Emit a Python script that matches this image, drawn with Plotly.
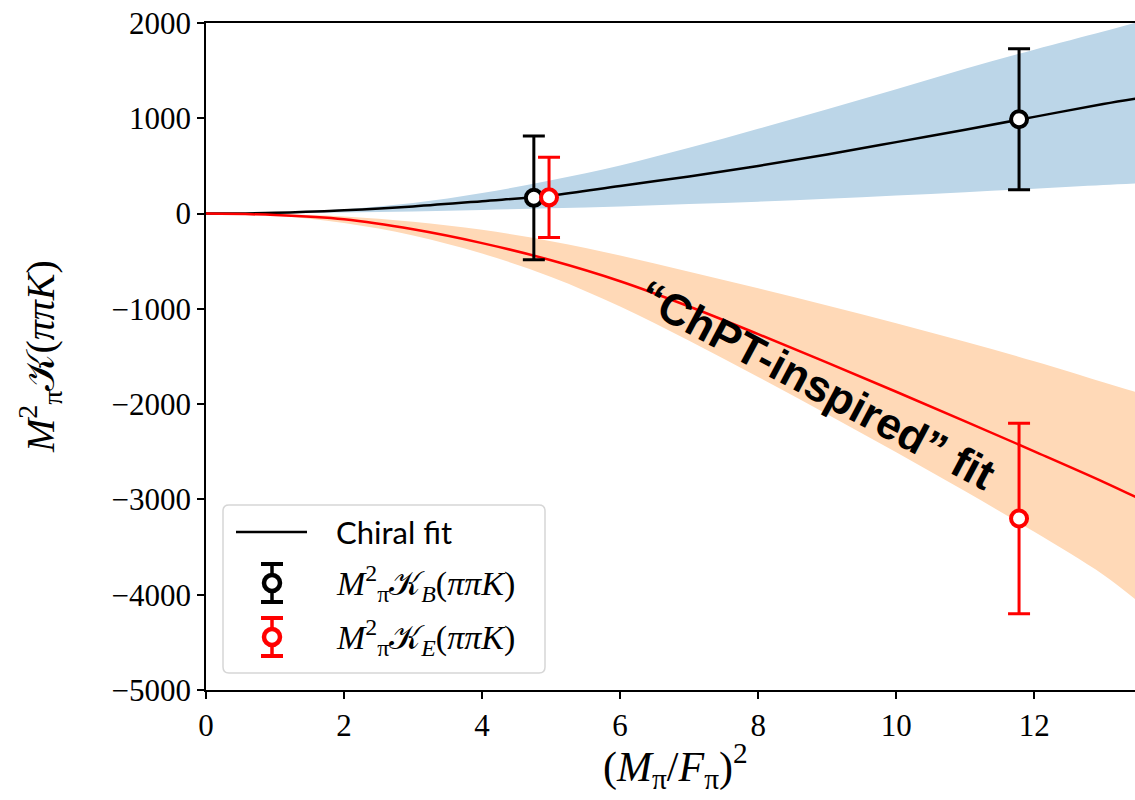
import plotly.graph_objects as go

# Fit curves sampled on a grid of (M_pi/F_pi)^2
x_grid = [0, 1, 2, 3, 4, 5, 6, 7, 8, 9, 10, 11, 12, 13, 13.5]
chiral_fit = [0, 8, 35, 75, 130, 190, 290, 390, 500, 620, 750, 880, 1015, 1150, 1210]
chiral_hi = [0, 8, 45, 110, 215, 350, 505, 690, 890, 1095, 1305, 1520, 1720, 1910, 2010]
chiral_lo = [0, 2, 10, 22, 38, 55, 75, 100, 125, 155, 190, 225, 260, 300, 318]

chpt_fit = [0, -15, -60, -165, -310, -490, -710, -975, -1265, -1565, -1870, -2180, -2495, -2815, -2985]
chpt_hi = [0, -5, -30, -85, -170, -290, -440, -610, -785, -965, -1150, -1345, -1550, -1770, -1880]
chpt_lo = [0, -20, -100, -230, -420, -665, -975, -1335, -1715, -2105, -2505, -2915, -3340, -3790, -4070]

# Lattice data points
kb_x = [4.75, 11.78]
kb_y = [165, 990]
kb_err = [650, 740]

ke_x = [4.97, 11.78]
ke_y = [170, -3200]
ke_err = [420, 1000]

x_ticks = [0, 2, 4, 6, 8, 10, 12]
y_ticks = [-5000, -4000, -3000, -2000, -1000, 0, 1000, 2000]
y_tick_text = [str(v).replace("-", "\u2212") for v in y_ticks]

W, H = 1135, 800
L, R, T, B = 206, 0, 23, 110
PW, PH = W - L - R, H - T - B

SERIF = "Liberation Serif"
SANS = "Lato"
BLUE_BAND = "#bcd6e8"
ORANGE_BAND = "#ffd9b7"

fig = go.Figure()

# uncertainty bands
fig.add_trace(go.Scatter(x=x_grid, y=chiral_lo, mode="lines", line=dict(width=0, shape="spline"),
                         hoverinfo="skip", showlegend=False))
fig.add_trace(go.Scatter(x=x_grid, y=chiral_hi, mode="lines", line=dict(width=0, shape="spline"),
                         fill="tonexty", fillcolor=BLUE_BAND, hoverinfo="skip", showlegend=False))
fig.add_trace(go.Scatter(x=x_grid, y=chpt_lo, mode="lines", line=dict(width=0, shape="spline"),
                         hoverinfo="skip", showlegend=False))
fig.add_trace(go.Scatter(x=x_grid, y=chpt_hi, mode="lines", line=dict(width=0, shape="spline"),
                         fill="tonexty", fillcolor=ORANGE_BAND, hoverinfo="skip", showlegend=False))

# central fit curves
fig.add_trace(go.Scatter(x=x_grid, y=chiral_fit, mode="lines",
                         line=dict(color="black", width=2.5, shape="spline"), showlegend=False))
fig.add_trace(go.Scatter(x=x_grid, y=chpt_fit, mode="lines",
                         line=dict(color="red", width=2.5, shape="spline"), showlegend=False))

# data points with error bars
for xs, ys, es, col in [(kb_x, kb_y, kb_err, "black"), (ke_x, ke_y, ke_err, "red")]:
    fig.add_trace(go.Scatter(
        x=xs, y=ys, mode="markers",
        marker=dict(symbol="circle", size=16, color="white", line=dict(color=col, width=4)),
        error_y=dict(type="data", array=es, color=col, thickness=3, width=11),
        showlegend=False,
    ))


def px_x(p):
    return (p - L) / PW


def px_y(p):
    return (H - B - p) / PH


shapes = []
annotations = []

# legend frame
lx0, lx1, ly0, ly1, rad = 223, 545, 505, 673, 6
path = (f"M {px_x(lx0 + rad)},{px_y(ly0)} L {px_x(lx1 - rad)},{px_y(ly0)} "
        f"Q {px_x(lx1)},{px_y(ly0)} {px_x(lx1)},{px_y(ly0 + rad)} "
        f"L {px_x(lx1)},{px_y(ly1 - rad)} Q {px_x(lx1)},{px_y(ly1)} {px_x(lx1 - rad)},{px_y(ly1)} "
        f"L {px_x(lx0 + rad)},{px_y(ly1)} Q {px_x(lx0)},{px_y(ly1)} {px_x(lx0)},{px_y(ly1 - rad)} "
        f"L {px_x(lx0)},{px_y(ly0 + rad)} Q {px_x(lx0)},{px_y(ly0)} {px_x(lx0 + rad)},{px_y(ly0)} Z")
shapes.append(dict(type="path", xref="paper", yref="paper", path=path,
                   line=dict(color="#d6d6d6", width=1.5), fillcolor="rgba(255,255,255,0.85)"))

# legend: line sample
shapes.append(dict(type="line", xref="paper", yref="paper", x0=px_x(236), x1=px_x(307),
                   y0=px_y(532), y1=px_y(532), line=dict(color="black", width=2.5)))

# legend: error-bar samples
for cy, col in [(583, "black"), (637, "red")]:
    cx = 272
    shapes.append(dict(type="line", xref="paper", yref="paper", x0=px_x(cx), x1=px_x(cx),
                       y0=px_y(cy - 19), y1=px_y(cy + 19), line=dict(color=col, width=3.5)))
    for dy in (-19, 19):
        shapes.append(dict(type="line", xref="paper", yref="paper", x0=px_x(cx - 11), x1=px_x(cx + 11),
                           y0=px_y(cy + dy), y1=px_y(cy + dy), line=dict(color=col, width=4)))
    shapes.append(dict(type="circle", xref="paper", yref="paper", x0=px_x(cx - 8), x1=px_x(cx + 8),
                       y0=px_y(cy - 8), y1=px_y(cy + 8), line=dict(color=col, width=4.5), fillcolor="white"))

annotations.append(dict(xref="paper", yref="paper", x=px_x(334), y=px_y(532), xanchor="left", yanchor="middle",
                        text="Chiral fit", showarrow=False, font=dict(family=SANS, size=31, color="black")))
for cy, sub in [(583, "B"), (637, "E")]:
    annotations.append(dict(
        xref="paper", yref="paper", x=px_x(334), y=px_y(cy), xanchor="left", yanchor="middle",
        text=f"<i>M</i><sup>2</sup><sub>π</sub>𝒦<sub><i>{sub}</i></sub>(<i>ππK</i>)",
        showarrow=False, font=dict(family=SERIF, size=34, color="black")))

# fit label along the red curve
annotations.append(dict(x=8.85, y=-1790, xref="x", yref="y", text="<b>“ChPT-inspired” fit</b>",
                        showarrow=False, textangle=28, font=dict(family="Liberation Sans", size=44, color="black")))

# axis titles
annotations.append(dict(xref="paper", yref="paper", x=px_x(675), y=px_y(766), xanchor="center", yanchor="middle",
                        text="(<i>M</i><sub>π</sub>/<i>F</i><sub>π</sub>)<sup>2</sup>", showarrow=False,
                        font=dict(family=SERIF, size=42, color="black")))
annotations.append(dict(xref="paper", yref="paper", x=px_x(40), y=px_y(357), xanchor="center", yanchor="middle",
                        text="<i>M</i><sup>2</sup><sub>π</sub>𝒦(<i>ππK</i>)", showarrow=False, textangle=-90,
                        font=dict(family=SERIF, size=40, color="black")))

fig.update_layout(
    width=W, height=H,
    margin=dict(l=L, r=R, t=T, b=B, pad=0),
    paper_bgcolor="white", plot_bgcolor="white",
    shapes=shapes, annotations=annotations,
    showlegend=False,
    xaxis=dict(range=[0, 13.46], tickvals=x_ticks, showgrid=False, zeroline=False,
               showline=True, linecolor="black", linewidth=1.5, mirror=True,
               ticks="outside", ticklen=7, tickwidth=1.5, tickcolor="black",
               tickfont=dict(family=SERIF, size=31, color="black")),
    yaxis=dict(range=[-5000, 2000], tickvals=y_ticks, ticktext=y_tick_text, showgrid=False, zeroline=False,
               showline=True, linecolor="black", linewidth=1.5,
               ticks="outside", ticklen=7, tickwidth=1.5, tickcolor="black",
               tickfont=dict(family=SERIF, size=31, color="black")),
)

fig.write_html("out.html")
